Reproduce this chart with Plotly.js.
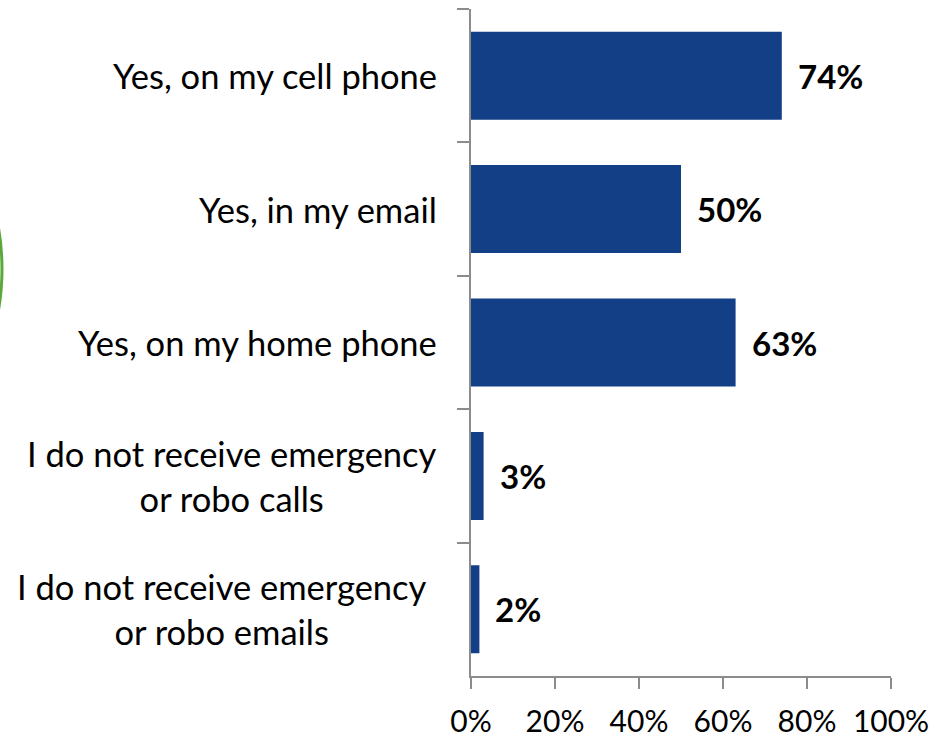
<!DOCTYPE html>
<html>
<head>
<meta charset="utf-8">
<script src="https://cdn.plot.ly/plotly-3.0.1.min.js"></script>
<style>html,body{margin:0;padding:0;background:#fff;}#chart{width:933px;height:740px;}</style>
</head>
<body>
<div id="chart"></div>
<script>
var categories = [
  "Yes, on my cell phone",
  "Yes, in my email",
  "Yes, on my home phone",
  "I do not receive emergency<br>or robo calls",
  "I do not receive emergency<br>or robo emails"
];
var values = [0.74, 0.50, 0.63, 0.03, 0.02];
var valueLabels = ["74%", "50%", "63%", "3%", "2%"];
var xTickVals = [0, 0.2, 0.4, 0.6, 0.8, 1.0];
var xTickText = ["0%", "20%", "40%", "60%", "80%", "100%"];

var FONT = "Lato, 'Open Sans', sans-serif";
var axisGray = "#8c8c8c";

var trace = {
  type: "bar",
  orientation: "h",
  y: categories,
  x: values,
  marker: {color: "#133f86"},
  hoverinfo: "skip"
};

var annotations = [];
categories.forEach(function (c, i) {
  annotations.push({
    xref: "paper", yref: "y",
    x: -32 / 420, y: c,
    xshift: (i === categories.length - 1) ? -10 : 0,
    text: c, showarrow: false,
    xanchor: "right", yanchor: "middle", align: "center",
    font: {family: FONT, size: 34.5, color: "#000"}
  });
  annotations.push({
    xref: "x", yref: "y",
    x: values[i], y: c,
    text: "<b>" + valueLabels[i] + "</b>", showarrow: false,
    xanchor: "left", yanchor: "middle", xshift: 14,
    font: {family: FONT, size: 33, color: "#000"}
  });
});

var layout = {
  width: 933, height: 740,
  margin: {l: 471, r: 42, t: 9, b: 64, pad: 0},
  paper_bgcolor: "#fff", plot_bgcolor: "#fff",
  showlegend: false,
  bargap: 0.34,
  font: {family: FONT, color: "#000"},
  xaxis: {
    range: [0, 1], tickvals: xTickVals, ticktext: xTickText,
    showgrid: false, zeroline: false,
    showline: true, linecolor: axisGray, linewidth: 2,
    ticks: "outside", ticklen: 11, tickwidth: 2, tickcolor: axisGray,
    ticklabelstandoff: 7,
    tickfont: {family: FONT, size: 30, color: "#000"},
    fixedrange: true
  },
  yaxis: {
    type: "category", autorange: "reversed",
    showgrid: false, zeroline: false,
    showline: true, linecolor: axisGray, linewidth: 2,
    ticks: "outside", tickson: "boundaries", ticklen: 12, tickwidth: 2, tickcolor: axisGray,
    showticklabels: false, fixedrange: true
  },
  annotations: annotations,
  shapes: [{
    type: "circle", xref: "paper", yref: "paper",
    x0: -2.2690, x1: -1.1167, y0: 0.2474, y1: 0.9730,
    line: {color: "#5aa83c", width: 3}, layer: "below"
  }]
};

Plotly.newPlot("chart", [trace], layout, {displayModeBar: false, staticPlot: true});
</script>
</body>
</html>
